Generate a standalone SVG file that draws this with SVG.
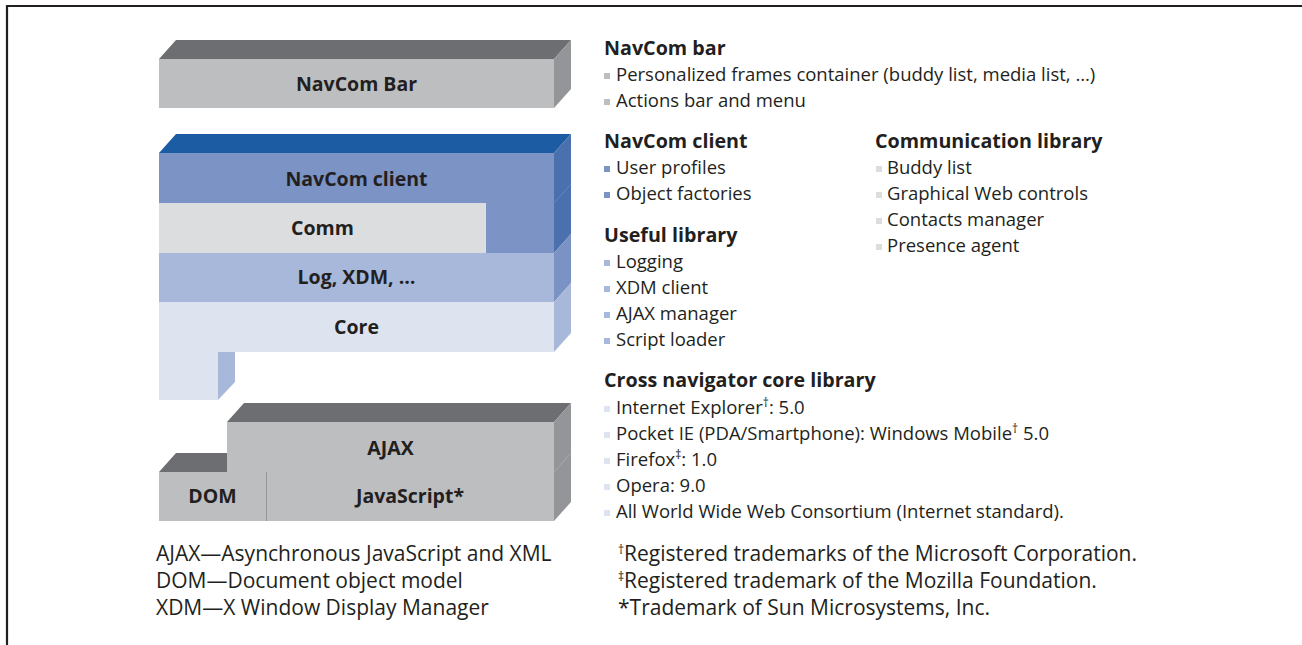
<svg xmlns="http://www.w3.org/2000/svg" width="1302" height="645" viewBox="0 0 1302 645">
<style>
text{font-family:"Open Sans","Noto Sans","DejaVu Sans",sans-serif;fill:#231f20}
.lbl{font-size:19.5px;font-weight:bold;text-anchor:middle}
.hd{font-size:19.7px;font-weight:bold}
.it{font-size:18.5px}
.fn{font-size:21px}
.sup{font-size:12px}
.gTop{fill:#6d6e71}.gFront{fill:#bcbec0}.gSide{fill:#939598}
</style>
<rect x="0" y="0" width="1302" height="645" fill="#ffffff"/>
<path d="M7,645 V6 H1302" fill="none" stroke="#231f20" stroke-width="2.2"/>

<g id="navcom-bar">
<polygon class="gTop" points="159,59 176,40 571,40 554,59"/>
<rect class="gFront" x="159" y="59" width="395" height="49"/>
<polygon class="gSide" points="554,59 571,40 571,89 554,108"/>
<text class="lbl" x="356.5" y="91">NavCom Bar</text>
</g>

<g id="navcom-client">
<polygon fill="#1c5ca2" points="159,153 176,134 571,134 554,153"/>
<rect fill="#7b93c5" x="159" y="153" width="395" height="100"/>
<polygon fill="#4a70ae" points="554,153 571,134 571,234 554,253"/>
<line x1="554" y1="203" x2="571" y2="184" stroke="#6585be" stroke-width="1"/>
<text class="lbl" x="356.5" y="186">NavCom client</text>
</g>

<g id="comm">
<rect fill="#dcdddf" x="159" y="203" width="327" height="50"/>
<text class="lbl" x="322.5" y="235">Comm</text>
</g>

<g id="log-xdm">
<rect fill="#a8b8da" x="159" y="253" width="395" height="49"/>
<polygon fill="#7b93c4" points="554,253 571,234 571,283 554,302"/>
<text class="lbl" x="356.5" y="284">Log, XDM, …</text>
</g>

<g id="core">
<rect fill="#dee3f0" x="159" y="302" width="395" height="50"/>
<polygon fill="#a8b8da" points="554,302 571,283 571,333 554,352"/>
<rect fill="#dee3f0" x="159" y="351" width="59" height="49"/>
<polygon fill="#a8b8da" points="218,352 235,352 235,382 218,400"/>
<text class="lbl" x="356.5" y="334">Core</text>
</g>

<g id="ajax">
<polygon class="gTop" points="227,422 244,403 571,403 554,422"/>
<rect class="gFront" x="227" y="422" width="327" height="50"/>
<polygon class="gSide" points="554,422 571,403 571,502 554,521"/>
<line x1="554" y1="472" x2="571" y2="453" stroke="#a7a9ac" stroke-width="1"/>
<text class="lbl" x="390.5" y="455">AJAX</text>
</g>

<g id="dom">
<polygon class="gTop" points="159,472 176,453 227,453 227,472"/>
<rect class="gFront" x="159" y="472" width="107" height="49"/>
<text class="lbl" x="212.5" y="503">DOM</text>
</g>

<g id="javascript">
<rect class="gFront" x="266" y="472" width="288" height="49"/>
<line x1="266.5" y1="472" x2="266.5" y2="521" stroke="#939598" stroke-width="1"/>
<text class="lbl" x="410" y="503">JavaScript*</text>
</g>

<g id="connectors"></g>

<g id="desc-navcom-bar">
<text class="hd" x="604" y="55">NavCom bar</text>
<rect x="604" y="73" width="6" height="6" fill="#bcbec0"/>
<text class="it" x="616" y="81">Personalized frames container (buddy list, media list, …)</text>
<rect x="604" y="99" width="6" height="6" fill="#bcbec0"/>
<text class="it" x="616" y="107">Actions bar and menu</text>
</g>

<g id="desc-navcom-client">
<text class="hd" x="604" y="148">NavCom client</text>
<rect x="604" y="166" width="6" height="6" fill="#7b93c5"/>
<text class="it" x="616" y="174">User profiles</text>
<rect x="604" y="192" width="6" height="6" fill="#7b93c5"/>
<text class="it" x="616" y="200">Object factories</text>
</g>

<g id="desc-useful">
<text class="hd" x="604" y="242">Useful library</text>
<rect x="604" y="260" width="6" height="6" fill="#a8b8da"/>
<text class="it" x="616" y="268">Logging</text>
<rect x="604" y="286" width="6" height="6" fill="#a8b8da"/>
<text class="it" x="616" y="294">XDM client</text>
<rect x="604" y="312" width="6" height="6" fill="#a8b8da"/>
<text class="it" x="616" y="320">AJAX manager</text>
<rect x="604" y="338" width="6" height="6" fill="#a8b8da"/>
<text class="it" x="616" y="346">Script loader</text>
</g>

<g id="desc-cross">
<text class="hd" x="604" y="387">Cross navigator core library</text>
<rect x="604" y="406" width="6" height="6" fill="#dee3f0"/>
<text class="it" x="616" y="414">Internet Explorer<tspan class="sup" dy="-7">†</tspan><tspan dy="7">: 5.0</tspan></text>
<rect x="604" y="432" width="6" height="6" fill="#dee3f0"/>
<text class="it" x="616" y="440">Pocket IE (PDA/Smartphone): Windows Mobile<tspan class="sup" dy="-7">†</tspan><tspan dy="7"> 5.0</tspan></text>
<rect x="604" y="458" width="6" height="6" fill="#dee3f0"/>
<text class="it" x="616" y="466">Firefox<tspan class="sup" dy="-7">‡</tspan><tspan dy="7">: 1.0</tspan></text>
<rect x="604" y="484" width="6" height="6" fill="#dee3f0"/>
<text class="it" x="616" y="492">Opera: 9.0</text>
<rect x="604" y="510" width="6" height="6" fill="#dee3f0"/>
<text class="it" x="616" y="518">All World Wide Web Consortium (Internet standard).</text>
</g>

<g id="desc-comm">
<text class="hd" x="875" y="148">Communication library</text>
<rect x="876" y="166" width="6" height="6" fill="#dcdddf"/>
<text class="it" x="887" y="174">Buddy list</text>
<rect x="876" y="192" width="6" height="6" fill="#dcdddf"/>
<text class="it" x="887" y="200">Graphical Web controls</text>
<rect x="876" y="218" width="6" height="6" fill="#dcdddf"/>
<text class="it" x="887" y="226">Contacts manager</text>
<rect x="876" y="244" width="6" height="6" fill="#dcdddf"/>
<text class="it" x="887" y="252">Presence agent</text>
</g>

<g id="footnotes">
<text class="fn" x="156" y="561">AJAX—Asynchronous JavaScript and XML</text>
<text class="fn" x="156" y="588">DOM—Document object model</text>
<text class="fn" x="156" y="615">XDM—X Window Display Manager</text>
<text class="fn" x="618" y="561"><tspan class="sup" dy="-7">†</tspan><tspan dy="7">Registered trademarks of the Microsoft Corporation.</tspan></text>
<text class="fn" x="618" y="588"><tspan class="sup" dy="-7">‡</tspan><tspan dy="7">Registered trademark of the Mozilla Foundation.</tspan></text>
<text class="fn" x="618" y="615">*Trademark of Sun Microsystems, Inc.</text>
</g>
</svg>
